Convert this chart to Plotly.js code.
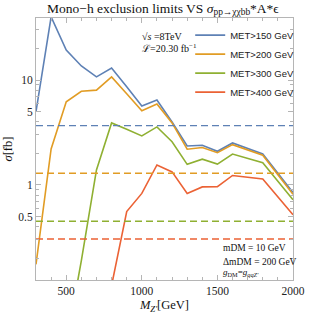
<!DOCTYPE html>
<html>
<head>
<meta charset="utf-8">
<script src="https://cdn.plot.ly/plotly-3.0.1.min.js"></script>
<style>html,body{margin:0;padding:0;background:#fff;}#chart{width:311px;height:315px;}</style>
</head>
<body>
<div id="chart"></div>
<script>
// Z' mass points (GeV)
const massZ = [300, 400, 500, 600, 700, 800, 900, 1000, 1100, 1200, 1300, 1400, 1500, 1600, 1800, 2000];
// sigma*A*eps curves (fb)
const met150 = [5.0, 40, 19.3, 13.6, 10.7, 13.0, 8.6, 5.65, 6.45, 3.98, 2.35, 2.39, 2.09, 2.51, 1.97, 0.845];
const met200 = [0.175, 2.2, 6.2, 7.8, 8.0, 10.7, 7.4, 5.1, 5.9, 3.9, 2.19, 2.27, 2.03, 2.42, 1.92, 0.815];
const met300 = [null, null, 0.03, 0.19, 1.39, 3.9, 3.4, 2.93, 3.57, 2.58, 1.57, 1.76, 1.58, 1.97, 1.63, 0.72];
const met400 = [null, null, null, null, null, 0.11, 0.557, 0.83, 1.55, 1.33, 0.83, 0.957, 0.96, 1.23, 1.14, 0.52];
// exclusion limits (fb)
const limits = [3.67, 1.29, 0.45, 0.305];
const seriesNames = ["MET>150 GeV", "MET>200 GeV", "MET>300 GeV", "MET>400 GeV"];
const colors = ["#5E81B5", "#E19C24", "#8FB032", "#EB6235"];
const xSpan = [300, 2000];

const series = [met150, met200, met300, met400];
const traces = [];
series.forEach((s, i) => {
  traces.push({
    x: massZ, y: s, type: "scatter", mode: "lines", name: seriesNames[i],
    line: {color: colors[i], width: 1.6}, connectgaps: false
  });
});
limits.forEach((v, i) => {
  traces.push({
    x: xSpan, y: [v, v], type: "scatter", mode: "lines", showlegend: false,
    line: {color: colors[i], width: 1.4, dash: "7px,4px"}, hoverinfo: "skip"
  });
});

const serif = "Liberation Serif, Times New Roman, serif";
const axisCommon = {
  showline: true, linecolor: "#b5b5b5", linewidth: 1, mirror: "ticks",
  ticks: "inside", ticklen: 5, tickcolor: "#b5b5b5", tickwidth: 1,
  showgrid: false, zeroline: false,
  tickfont: {family: serif, size: 11.5, color: "#222"}
};

const layout = {
  width: 311, height: 315,
  margin: {l: 36, r: 13, t: 18, b: 35},
  paper_bgcolor: "#fff", plot_bgcolor: "#fff",
  title: {text: "Mono\u2212h exclusion limits VS <i>\u03c3</i><sub>pp\u2192\u03c7\u03c7bb</sub>*A*\u03f5",
          font: {family: serif, size: 13.5, color: "#111"}, xref: "container", x: 0.524, xanchor: "center", y: 0.975, yanchor: "middle"},
  xaxis: Object.assign({}, axisCommon, {
    range: [300, 2000], tickvals: [500, 1000, 1500, 2000],
    minor: {ticks: "inside", ticklen: 3, tickcolor: "#b5b5b5", tickmode: "array",
            tickvals: [400, 600, 700, 800, 900, 1100, 1200, 1300, 1400, 1600, 1700, 1800, 1900]},
    title: {text: "<i>M</i><sub><i>Z'</i></sub>[GeV]", font: {family: serif, size: 12.5, color: "#111"}, standoff: 4}
  }),
  yaxis: Object.assign({}, axisCommon, {
    type: "log", range: [Math.log10(0.124), Math.log10(39)],
    tickvals: [0.5, 1, 5, 10], ticktext: ["0.5", "1", "5", "10"],
    minor: {ticks: "inside", ticklen: 3, tickcolor: "#b5b5b5", tickmode: "array",
            tickvals: [0.2, 0.3, 0.4, 0.6, 0.7, 0.8, 0.9, 2, 3, 4, 6, 7, 8, 9, 20, 30]},
    title: {text: "<i>\u03c3</i>[fb]", font: {family: serif, size: 12.5, color: "#111"}, standoff: 2}
  }),
  legend: {x: 0.6, xanchor: "left", y: 0.99, yanchor: "top", bgcolor: "rgba(0,0,0,0)",
           font: {family: "Liberation Sans, Arial, sans-serif", size: 9.5, color: "#222"},
           itemwidth: 30, tracegroupgap: 0},
  annotations: [
    {xref: "paper", yref: "paper", x: 0.405, y: 0.93, xanchor: "left", yanchor: "middle", showarrow: false,
     text: "\u221a<i>s</i> =8TeV", font: {family: serif, size: 10, color: "#111"}},
    {xref: "paper", yref: "paper", x: 0.405, y: 0.885, xanchor: "left", yanchor: "middle", showarrow: false,
     text: "\u2112=20.30 fb<sup>\u22121</sup>", font: {family: serif, size: 10, color: "#111"}},
    {xref: "paper", yref: "paper", x: 0.72, y: 0.122, xanchor: "left", yanchor: "middle", showarrow: false,
     text: "mDM = 10 GeV", font: {family: serif, size: 9.5, color: "#111"}},
    {xref: "paper", yref: "paper", x: 0.72, y: 0.068, xanchor: "left", yanchor: "middle", showarrow: false,
     text: "\u0394mDM = 200 GeV", font: {family: serif, size: 9.5, color: "#111"}},
    {xref: "paper", yref: "paper", x: 0.72, y: 0.028, xanchor: "left", yanchor: "middle", showarrow: false,
     text: "<i>g</i><sub>DM</sub>=<i>g</i><sub><i>qqZ'</i></sub>", font: {family: serif, size: 9, color: "#111"}}
  ]
};

Plotly.newPlot("chart", traces, layout, {displayModeBar: false, staticPlot: true});
</script>
</body>
</html>
